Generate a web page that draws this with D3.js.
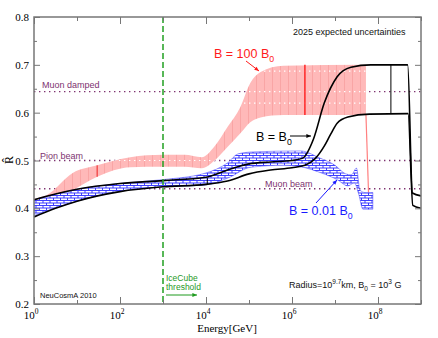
<!DOCTYPE html>
<html lang="en">
<head>
<meta charset="utf-8">
<title>R hat vs energy</title>
<script src="https://cdn.jsdelivr.net/npm/d3@7"></script>
<style>
    body { margin: 0; background: #fff; }
    .sans { font-family: "Liberation Sans", Arial, Helvetica, sans-serif; }
    .serif { font-family: "Liberation Serif", "Times New Roman", serif; }
</style>
</head>
<body>
<script>
// ---- data: [log10(E/GeV), R] ----
var blackUpper = [[0,0.418],[0.5,0.43],[1,0.44],[2,0.452],[3,0.458],[4,0.465],[4.5,0.48],[5,0.493],[5.5,0.497],[6,0.5],[6.25,0.505],[6.5,0.545],[6.75,0.62],[7.05,0.675],[7.37,0.695],[7.83,0.7],[8.69,0.7],[8.8,0.432],[9,0.426]];
var blackLower = [[0,0.382],[0.5,0.4],[1,0.415],[2,0.435],[3,0.445],[4,0.45],[4.5,0.457],[5,0.472],[5.5,0.48],[6,0.485],[6.3,0.49],[6.55,0.505],[6.75,0.53],[6.9,0.555],[7.05,0.578],[7.3,0.591],[7.8,0.597],[8.7,0.598],[8.81,0.406],[9,0.4]];
var redUpper = [[0,0.42],[0.3,0.428],[0.9,0.474],[1.47,0.49],[2.24,0.507],[3,0.512],[3.5,0.512],[3.9,0.507],[4.2,0.53],[4.5,0.57],[4.8,0.612],[5.03,0.662],[5.27,0.685],[5.8,0.698],[7.72,0.7]];
var redLower = [[0,0.415],[0.3,0.414],[0.9,0.438],[1.47,0.466],[2.24,0.486],[3,0.487],[3.5,0.487],[3.9,0.484],[4.2,0.5],[4.5,0.528],[4.8,0.557],[5.03,0.58],[5.27,0.59],[5.8,0.595],[7.72,0.595]];
var redTail = [[7.72,0.595],[7.78,0.432]];
var blueUpper = [[0,0.418],[1,0.44],[2,0.452],[3,0.46],[4,0.474],[4.5,0.495],[4.75,0.514],[5.1,0.518],[6.2,0.52],[6.65,0.505],[7.0,0.49],[7.25,0.472],[7.38,0.47],[7.5,0.484],[7.58,0.438],[7.7,0.433],[7.88,0.433]];
var blueLower = [[0,0.385],[1,0.415],[2,0.436],[3,0.445],[4,0.449],[4.5,0.463],[5.05,0.486],[5.8,0.49],[6.3,0.485],[6.65,0.475],[7.05,0.46],[7.3,0.447],[7.45,0.453],[7.55,0.43],[7.65,0.398],[7.88,0.398]];
// error-bar style verticals [logE, R low, R high, colour]
var errBars = [[4.03,0.449,0.463,"black"],[8.3,0.598,0.7,"black"],[1.47,0.466,0.49,"#f03030"],[6.3,0.595,0.7,"#ff3030"]];
var refLines = [["Muon damped",0.644],["Pion beam",0.5],["Muon beam",0.441]];
var iceCubeE = 1e3;
var yMajor = [0.2,0.3,0.4,0.5,0.6,0.7,0.8];
var yMinor = [0.25,0.35,0.45,0.55,0.65,0.75];
var xMajorExp = [0,2,4,6,8];
var xMinorExp = [1,3,5,7,9];

var width = 438, height = 338;
var svg = d3.select("body").append("svg").attr("width", width).attr("height", height);

var x = d3.scaleLog().domain([1, 1e9]).range([34, 421]);
var y = d3.scaleLinear().domain([0.2, 0.8]).range([304, 17]);
var px = d => x(Math.pow(10, d[0]));
var py = d => y(d[1]);

var defs = svg.append("defs");
var rp = defs.append("pattern").attr("id", "redfill").attr("patternUnits", "userSpaceOnUse")
    .attr("width", 8).attr("height", 8);
rp.append("rect").attr("width", 8).attr("height", 8).attr("fill", "#ffb9b9");
rp.append("line").attr("x1", 0.5).attr("x2", 0.5).attr("y1", 0).attr("y2", 8)
    .attr("stroke", "#f7a0a0").attr("stroke-width", 0.8);
var bp = defs.append("pattern").attr("id", "brick").attr("patternUnits", "userSpaceOnUse")
    .attr("width", 7).attr("height", 5);
bp.append("rect").attr("width", 7).attr("height", 5).attr("fill", "#fff");
bp.append("path").attr("d", "M0,0.5H7M0,3H7M1,0.5V3M4.5,3V5.5")
    .attr("stroke", "#2a2aff").attr("stroke-width", 0.9).attr("fill", "none");

var plot = svg.append("g");
defs.append("clipPath").attr("id", "clip").append("rect")
    .attr("x", 34).attr("y", 17).attr("width", 387).attr("height", 287);
plot.attr("clip-path", "url(#clip)");

var purple = "#7e3270";
plot.selectAll("line.ref").data(refLines).join("line").attr("class", "ref")
    .attr("x1", x(1)).attr("x2", x(1e9))
    .attr("y1", d => y(d[1])).attr("y2", d => y(d[1]))
    .attr("stroke", purple).attr("stroke-width", 1.4).attr("stroke-dasharray", "1.4,3.6");

var line = d3.line().x(px).y(py).curve(d3.curveMonotoneX);
function band(up, lo) {
    var a = line(up);
    var b = line(lo.slice().reverse());
    return a + "L" + b.slice(1) + "Z";
}

plot.append("path").attr("d", band(redUpper, redLower)).attr("fill", "url(#redfill)").attr("stroke", "none");
// white dotted rows inside the red band
defs.append("clipPath").attr("id", "redclip").append("path").attr("d", band(redUpper, redLower));
plot.append("g").attr("clip-path", "url(#redclip)").selectAll("line").data([0.687, 0.644, 0.62, 0.5]).join("line")
    .attr("x1", x(1)).attr("x2", x(1e9)).attr("y1", d => y(d)).attr("y2", d => y(d))
    .attr("stroke", "#fff").attr("stroke-width", 1.2).attr("stroke-dasharray", "1.4,3.6");
plot.append("path").attr("d", line(redTail)).attr("stroke", "#ff8080").attr("stroke-width", 1.2).attr("fill", "none");

plot.append("path").attr("d", band(blueUpper, blueLower)).attr("fill", "url(#brick)")
    .attr("stroke", "#4040ff").attr("stroke-width", 0.5);

plot.selectAll("line.eb").data(errBars).join("line").attr("class", "eb")
    .attr("x1", d => x(Math.pow(10, d[0]))).attr("x2", d => x(Math.pow(10, d[0])))
    .attr("y1", d => y(d[1])).attr("y2", d => y(d[2]))
    .attr("stroke", d => d[3]).attr("stroke-width", (d, i) => i == 3 ? 1.6 : 1);

[blackUpper, blackLower].forEach(function (s) {
    plot.append("path").attr("d", line(s)).attr("fill", "none")
        .attr("stroke", "black").attr("stroke-width", 1.6);
});

plot.append("line").attr("x1", x(iceCubeE)).attr("x2", x(iceCubeE))
    .attr("y1", y(0.8)).attr("y2", y(0.2))
    .attr("stroke", "#22a022").attr("stroke-width", 1.5).attr("stroke-dasharray", "6,3");

// axes, ticks pointing inward
function tickify(g) {
    g.select(".domain").remove();
    g.selectAll("line").attr("stroke", "#777").attr("stroke-width", 1);
    g.selectAll("text").remove();
}
svg.append("g").attr("transform", "translate(0,304)")
    .call(d3.axisBottom(x).tickValues(xMajorExp.map(e => Math.pow(10, e))).tickSize(-7)).call(tickify);
svg.append("g").attr("transform", "translate(0,304)")
    .call(d3.axisBottom(x).tickValues(xMinorExp.map(e => Math.pow(10, e))).tickSize(-4)).call(tickify);
svg.append("g").attr("transform", "translate(0,17)")
    .call(d3.axisTop(x).tickValues(xMajorExp.map(e => Math.pow(10, e))).tickSize(-7)).call(tickify);
svg.append("g").attr("transform", "translate(0,17)")
    .call(d3.axisTop(x).tickValues(xMinorExp.map(e => Math.pow(10, e))).tickSize(-4)).call(tickify);
svg.append("g").attr("transform", "translate(34,0)")
    .call(d3.axisLeft(y).tickValues(yMajor).tickSize(-6)).call(tickify);
svg.append("g").attr("transform", "translate(34,0)")
    .call(d3.axisLeft(y).tickValues(yMinor).tickSize(-3)).call(tickify);
svg.append("g").attr("transform", "translate(421,0)")
    .call(d3.axisRight(y).tickValues(yMajor).tickSize(-6)).call(tickify);
svg.append("g").attr("transform", "translate(421,0)")
    .call(d3.axisRight(y).tickValues(yMinor).tickSize(-3)).call(tickify);
svg.append("rect").attr("x", 34).attr("y", 17).attr("width", 387).attr("height", 287)
    .attr("fill", "none").attr("stroke", "#777").attr("stroke-width", 1.5);

svg.selectAll("text.ylab").data(yMajor).join("text").attr("class", "ylab serif")
    .attr("x", 29).attr("y", d => y(d) + 4).attr("text-anchor", "end")
    .attr("font-size", 11).text(d => d.toFixed(1));
var xl = svg.selectAll("text.xlab").data(xMajorExp).join("text").attr("class", "xlab serif")
    .attr("x", d => x(Math.pow(10, d)) - 3).attr("y", 319).attr("text-anchor", "middle").attr("font-size", 11);
xl.append("tspan").text("10");
xl.append("tspan").attr("dy", -5).attr("font-size", 7.5).text(d => d);
svg.append("text").attr("class", "serif").attr("x", 227).attr("y", 332).attr("text-anchor", "middle")
    .attr("font-size", 11).text("Energy[GeV]");
svg.append("text").attr("class", "serif").attr("transform", "translate(13,160) rotate(-90)")
    .attr("text-anchor", "middle").attr("font-size", 12).text("R\u0302");

// annotations
function label(tx, ty, col, size, parts) {
    var t = svg.append("text").attr("class", "sans").attr("x", tx).attr("y", ty)
        .attr("fill", col).attr("font-size", size);
    parts.forEach(function (p) {
        var s = t.append("tspan").text(p[0]);
        if (p[1]) s.attr("dy", p[1]).attr("font-size", size * 0.7);
    });
    return t;
}
function arrow(x1, y1, x2, y2, col) {
    svg.append("line").attr("x1", x1).attr("y1", y1).attr("x2", x2).attr("y2", y2)
        .attr("stroke", col).attr("stroke-width", 1);
    var a = Math.atan2(y2 - y1, x2 - x1), L = 5, w = 0.4;
    svg.append("path").attr("fill", col)
        .attr("d", `M${x2},${y2}L${x2 - L * Math.cos(a - w)},${y2 - L * Math.sin(a - w)}L${x2 - L * Math.cos(a + w)},${y2 - L * Math.sin(a + w)}Z`);
}

label(293, 35, "#111", 9, [["2025 expected uncertainties"]]);
label(214, 58, "#ff1a1a", 12.5, [["B = 100 B"], ["0", 4]]);
arrow(246, 61, 259, 71, "#ff1a1a");
label(256, 141, "#000", 12.5, [["B = B"], ["0", 4]]);
arrow(290, 136, 311, 136, "#000");
label(289, 215, "#1a1aff", 12.5, [["B = 0.01 B"], ["0", 4]]);
arrow(316, 203, 337, 180, "#1a1aff");
refLines.forEach(function (r, i) {
    var pos = [[42, 88], [40, 159], [265, 187]][i];
    label(pos[0], pos[1], purple, 9, [[r[0]]]);
});
label(40, 298, "#111", 7.5, [["NeuCosmA 2010"]]);
label(166, 280.5, "#1f9a1f", 8.5, [["IceCube"]]);
label(166, 289.5, "#1f9a1f", 8.5, [["threshold"]]);
arrow(166, 295, 197, 295, "#1f9a1f");
var rt = svg.append("text").attr("class", "sans").attr("x", 289).attr("y", 288).attr("font-size", 9).attr("fill", "#111");
rt.append("tspan").text("Radius=10");
rt.append("tspan").attr("dy", -4).attr("font-size", 6.5).text("9.7");
rt.append("tspan").attr("dy", 4).text("km, B");
rt.append("tspan").attr("dy", 3).attr("font-size", 6.5).text("0");
rt.append("tspan").attr("dy", -3).text(" = 10");
rt.append("tspan").attr("dy", -4).attr("font-size", 6.5).text("3");
rt.append("tspan").attr("dy", 4).text(" G");
</script>
</body>
</html>
